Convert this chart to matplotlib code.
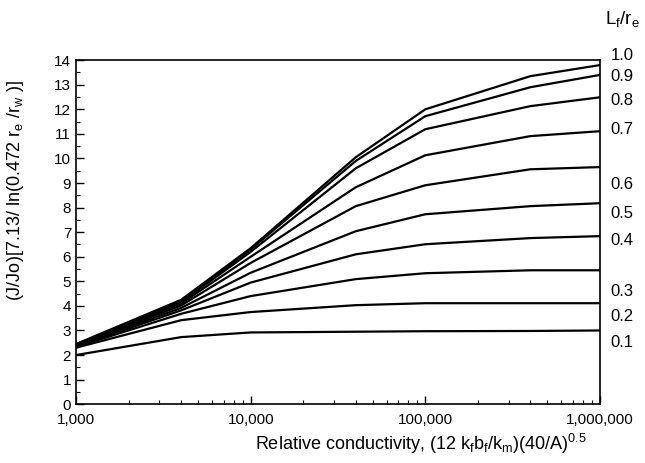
import numpy as np
import matplotlib
matplotlib.use("Agg")
import matplotlib.pyplot as plt
from matplotlib.ticker import FixedLocator, LogLocator, NullFormatter, MultipleLocator

plt.rcParams['font.family'] = ['Liberation Sans', 'DejaVu Sans']
plt.rcParams['mathtext.fontset'] = 'custom'
plt.rcParams['mathtext.rm'] = 'Liberation Sans'
plt.rcParams['mathtext.it'] = 'Liberation Sans'

# relative conductivity values where the curves were computed
x = [1000, 4000, 10000, 40000, 100000, 400000, 1000000]

# fracture length ratio Lf/re for each curve
ratios = ['1.0', '0.9', '0.8', '0.7', '0.6', '0.5', '0.4', '0.3', '0.2', '0.1']

# curve values
r10 = [2.45, 4.25, 6.35, 10.05, 12.00, 13.35, 13.80]
r09 = [2.43, 4.20, 6.30, 9.90, 11.72, 12.90, 13.40]
r08 = [2.41, 4.15, 6.20, 9.60, 11.19, 12.13, 12.49]
r07 = [2.40, 4.10, 6.00, 8.83, 10.13, 10.91, 11.11]
r06 = [2.38, 4.02, 5.75, 8.06, 8.91, 9.56, 9.65]
r05 = [2.36, 3.92, 5.35, 7.04, 7.73, 8.06, 8.18]
r04 = [2.35, 3.82, 4.95, 6.10, 6.51, 6.76, 6.84]
r03 = [2.33, 3.68, 4.40, 5.09, 5.33, 5.45, 5.45]
r02 = [2.30, 3.42, 3.75, 4.03, 4.11, 4.11, 4.11]
r01 = [2.00, 2.73, 2.92, 2.95, 2.97, 2.98, 3.00]
curves = [r10, r09, r08, r07, r06, r05, r04, r03, r02, r01]

# where the ratio labels sit on the right (y in data units)
label_y = [14.2, 13.35, 12.37, 11.19, 8.95, 7.77, 6.67, 4.6, 3.58, 2.52]

fig = plt.figure(figsize=(6.45, 4.63), dpi=100)
ax = fig.add_axes([0.118, 0.127, 0.812, 0.743])

for c in curves:
    ax.plot(x, c, color='black', lw=1.6)

ax.set_xscale('log')
ax.set_xlim(1000, 1000000)
ax.set_ylim(0, 14)

ax.xaxis.set_major_locator(FixedLocator([1000, 10000, 100000, 1000000]))
ax.xaxis.set_minor_locator(LogLocator(base=10, subs=np.arange(2, 10)))
ax.xaxis.set_minor_formatter(NullFormatter())
ax.set_xticklabels(['1,000', '10,000', '100,000', '1,000,000'])
ax.yaxis.set_major_locator(MultipleLocator(1))
ax.yaxis.set_minor_locator(MultipleLocator(0.5))

ax.tick_params(which='major', direction='in', length=6, width=1, labelsize=11, color='black')
ax.tick_params(which='minor', direction='in', length=3, width=0.8)
ax.tick_params(axis='x', pad=6)
for s in ax.spines.values():
    s.set_linewidth(1.2)

ax.set_xlabel('Relative conductivity, (12 k$_f$b$_f$/k$_m$)(40/A)$^{0.5}$', fontsize=13)
ax.xaxis.set_label_coords(0.659, -0.08)
ax.set_ylabel('(J/Jo)[7.13/ ln(0.472 r$_e$ /r$_w$ )]', fontsize=13)
ax.yaxis.set_label_coords(-0.095, 0.62)

for lab, yy in zip(ratios, label_y):
    ax.annotate(lab, xy=(1.02, yy), xycoords=('axes fraction', 'data'),
                fontsize=12, va='center', ha='left')
ax.annotate('L$_f$/r$_e$', xy=(1.01, 1.12), xycoords='axes fraction',
            fontsize=13.5, va='center', ha='left')

fig.savefig('out.png', dpi=100)
